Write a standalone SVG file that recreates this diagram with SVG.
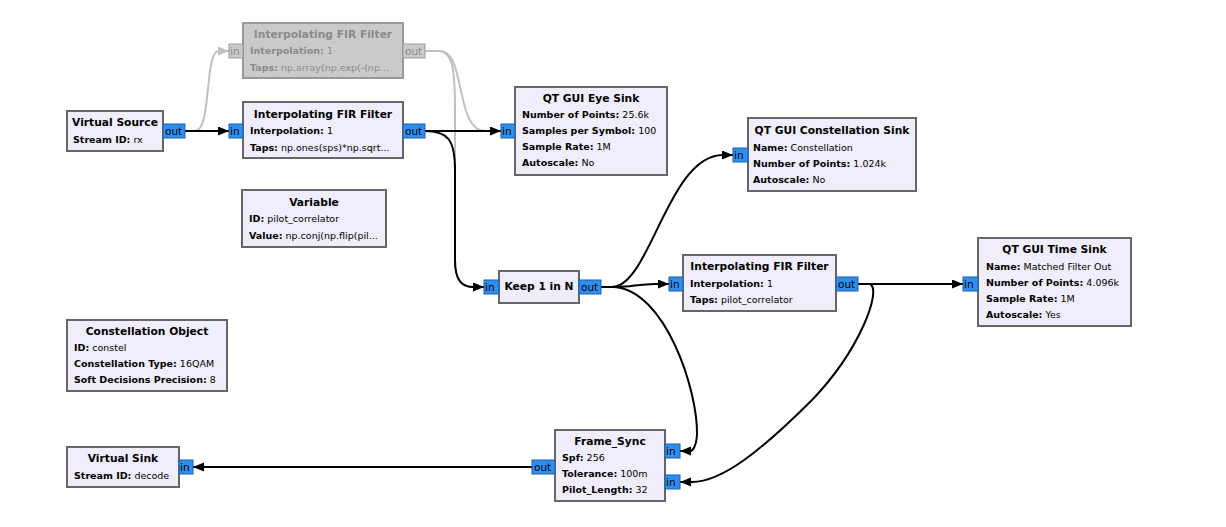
<svg xmlns="http://www.w3.org/2000/svg" width="1226" height="527" viewBox="0 0 1226 527">
<style>
.blk{fill:#f0eefc;stroke:#666;stroke-width:2}
.dis{fill:#cacaca;stroke:#999;stroke-width:2}
.t{font-family:"DejaVu Sans",sans-serif;font-size:10.7px;font-weight:bold;text-anchor:middle;fill:#000}
.p{font-family:"DejaVu Sans",sans-serif;font-size:9.5px;fill:#000}
.p tspan.k{font-weight:bold}
.dt{fill:#8a8a8a}
.port{fill:#2f8ff0;stroke:#1b5fa8;stroke-width:1}
.dport{fill:#cacaca;stroke:#999;stroke-width:1}
.pt{font-family:"DejaVu Sans",sans-serif;font-size:10.5px;fill:#000}
.dpt{font-family:"DejaVu Sans",sans-serif;font-size:10.5px;fill:#8a8a8a}
.c{fill:none;stroke:#000;stroke-width:2;marker-end:url(#ah)}
.g{fill:none;stroke:#c0c0c0;stroke-width:2;marker-end:url(#ahg)}
</style>
<defs>
<marker id="ah" markerUnits="userSpaceOnUse" markerWidth="12" markerHeight="10" refX="11" refY="4.5" orient="auto"><path d="M0,0 L11,4.5 L0,9 z" fill="#000"/></marker>
<marker id="ahg" markerUnits="userSpaceOnUse" markerWidth="12" markerHeight="10" refX="11" refY="4.5" orient="auto"><path d="M0,0 L11,4.5 L0,9 z" fill="#c0c0c0"/></marker>
</defs>
<rect width="1226" height="527" fill="#fff"/>
<g id="connectors">
<path class="g" d="M185,131 H195 C212,131 204,51 219,51 H229"/>
<path class="g" d="M425,51 H438 C453,51 455,70 455,110 L455,260 C455,281 462,287 474,287 H484"/>
<path class="g" d="M425,51 H440 C466,51 455,131 485,131 H501"/>
<path class="c" d="M185,131 H229"/>
<path class="c" d="M425,131 H501"/>
<path class="c" d="M425,131 C448,131 455,140 455,170 L455,260 C455,281 462,287 474,287 H484"/>
<path class="c" d="M601,287 H612 C650,287 668,155 723,155 H733"/>
<path class="c" d="M601,287 H616 C632,287 638,284 655,284 H669"/>
<path class="c" d="M601,287 H614 C665,290 698,390 697,435 C696,448 692,451 690,451 H680"/>
<path class="c" d="M858,284 H963"/>
<path class="c" d="M858,284 H870 C882,290 860,350 812,400 C762,450 722,482 692,482 H680"/>
<path class="c" d="M532,467 H193"/>
</g>
<g id="virtual_source">
<rect class="blk" x="67" y="111" width="96" height="40"/>
<text class="t" x="115" y="126">Virtual Source</text>
<text class="p" x="73" y="143"><tspan class="k">Stream ID:</tspan> rx</text>
<rect class="port" x="163" y="124" width="22" height="14"/>
<text class="pt" x="165" y="135">out</text>
</g>
<g id="fir_disabled">
<rect class="dis" x="243" y="23" width="160" height="55"/>
<text class="t dt" x="323" y="38">Interpolating FIR Filter</text>
<text class="p dt" x="250" y="54"><tspan class="k">Interpolation:</tspan> 1</text>
<text class="p dt" x="250" y="71"><tspan class="k">Taps:</tspan> np.array(np.exp(-(np...</text>
<rect class="dport" x="229" y="44" width="14" height="14"/>
<text class="dpt" x="230" y="55">in</text>
<rect class="dport" x="403" y="44" width="22" height="14"/>
<text class="dpt" x="405" y="55">out</text>
</g>
<g id="fir_enabled">
<rect class="blk" x="243" y="102" width="160" height="56"/>
<text class="t" x="323" y="118">Interpolating FIR Filter</text>
<text class="p" x="250" y="134"><tspan class="k">Interpolation:</tspan> 1</text>
<text class="p" x="250" y="151"><tspan class="k">Taps:</tspan> np.ones(sps)*np.sqrt...</text>
<rect class="port" x="229" y="124" width="14" height="14"/>
<text class="pt" x="230" y="135">in</text>
<rect class="port" x="403" y="124" width="22" height="14"/>
<text class="pt" x="405" y="135">out</text>
</g>
<g id="eye_sink">
<rect class="blk" x="515" y="87" width="152" height="88"/>
<text class="t" x="591" y="102">QT GUI Eye Sink</text>
<text class="p" x="522" y="118"><tspan class="k">Number of Points:</tspan> 25.6k</text>
<text class="p" x="522" y="134"><tspan class="k">Samples per Symbol:</tspan> 100</text>
<text class="p" x="522" y="150"><tspan class="k">Sample Rate:</tspan> 1M</text>
<text class="p" x="522" y="166"><tspan class="k">Autoscale:</tspan> No</text>
<rect class="port" x="501" y="124" width="14" height="14"/>
<text class="pt" x="502" y="135">in</text>
</g>
<g id="constellation_sink">
<rect class="blk" x="748" y="118" width="168" height="73"/>
<text class="t" x="832" y="134">QT GUI Constellation Sink</text>
<text class="p" x="753" y="151"><tspan class="k">Name:</tspan> Constellation</text>
<text class="p" x="753" y="167"><tspan class="k">Number of Points:</tspan> 1.024k</text>
<text class="p" x="753" y="183"><tspan class="k">Autoscale:</tspan> No</text>
<rect class="port" x="733" y="148" width="15" height="14"/>
<text class="pt" x="734" y="159">in</text>
</g>
<g id="variable">
<rect class="blk" x="242" y="190" width="144" height="57"/>
<text class="t" x="314" y="206">Variable</text>
<text class="p" x="249" y="222"><tspan class="k">ID:</tspan> pilot_correlator</text>
<text class="p" x="249" y="239"><tspan class="k">Value:</tspan> np.conj(np.flip(pil...</text>
</g>
<g id="keep_1_in_n">
<rect class="blk" x="499" y="271" width="80" height="32"/>
<text class="t" x="539" y="290">Keep 1 in N</text>
<rect class="port" x="484" y="280" width="15" height="14"/>
<text class="pt" x="485" y="291">in</text>
<rect class="port" x="579" y="280" width="22" height="14"/>
<text class="pt" x="581" y="291">out</text>
</g>
<g id="fir_pilot">
<rect class="blk" x="683" y="255" width="153" height="56"/>
<text class="t" x="759.5" y="270">Interpolating FIR Filter</text>
<text class="p" x="690" y="287"><tspan class="k">Interpolation:</tspan> 1</text>
<text class="p" x="690" y="303"><tspan class="k">Taps:</tspan> pilot_correlator</text>
<rect class="port" x="669" y="277" width="14" height="14"/>
<text class="pt" x="670" y="288">in</text>
<rect class="port" x="836" y="277" width="22" height="14"/>
<text class="pt" x="838" y="288">out</text>
</g>
<g id="time_sink">
<rect class="blk" x="978" y="238" width="153" height="88"/>
<text class="t" x="1054.5" y="253">QT GUI Time Sink</text>
<text class="p" x="986" y="270"><tspan class="k">Name:</tspan> Matched Filter Out</text>
<text class="p" x="986" y="286"><tspan class="k">Number of Points:</tspan> 4.096k</text>
<text class="p" x="986" y="302"><tspan class="k">Sample Rate:</tspan> 1M</text>
<text class="p" x="986" y="318"><tspan class="k">Autoscale:</tspan> Yes</text>
<rect class="port" x="963" y="277" width="15" height="14"/>
<text class="pt" x="964" y="288">in</text>
</g>
<g id="constellation_object">
<rect class="blk" x="67" y="320" width="160" height="71"/>
<text class="t" x="147" y="335">Constellation Object</text>
<text class="p" x="74" y="351"><tspan class="k">ID:</tspan> constel</text>
<text class="p" x="74" y="367"><tspan class="k">Constellation Type:</tspan> 16QAM</text>
<text class="p" x="74" y="383"><tspan class="k">Soft Decisions Precision:</tspan> 8</text>
</g>
<g id="virtual_sink">
<rect class="blk" x="67" y="447" width="112" height="40"/>
<text class="t" x="123" y="462">Virtual Sink</text>
<text class="p" x="74" y="479"><tspan class="k">Stream ID:</tspan> decode</text>
<rect class="port" x="179" y="460" width="14" height="14"/>
<text class="pt" x="180" y="471">in</text>
</g>
<g id="frame_sync">
<rect class="blk" x="555" y="430" width="110" height="71"/>
<text class="t" x="610" y="445">Frame_Sync</text>
<text class="p" x="562" y="461"><tspan class="k">Spf:</tspan> 256</text>
<text class="p" x="562" y="477"><tspan class="k">Tolerance:</tspan> 100m</text>
<text class="p" x="562" y="493"><tspan class="k">Pilot_Length:</tspan> 32</text>
<rect class="port" x="532" y="460" width="23" height="14"/>
<text class="pt" x="534" y="471">out</text>
<rect class="port" x="665" y="444" width="15" height="14"/>
<text class="pt" x="666" y="455">in</text>
<rect class="port" x="665" y="475" width="15" height="14"/>
<text class="pt" x="666" y="486">in</text>
</g>
</svg>
